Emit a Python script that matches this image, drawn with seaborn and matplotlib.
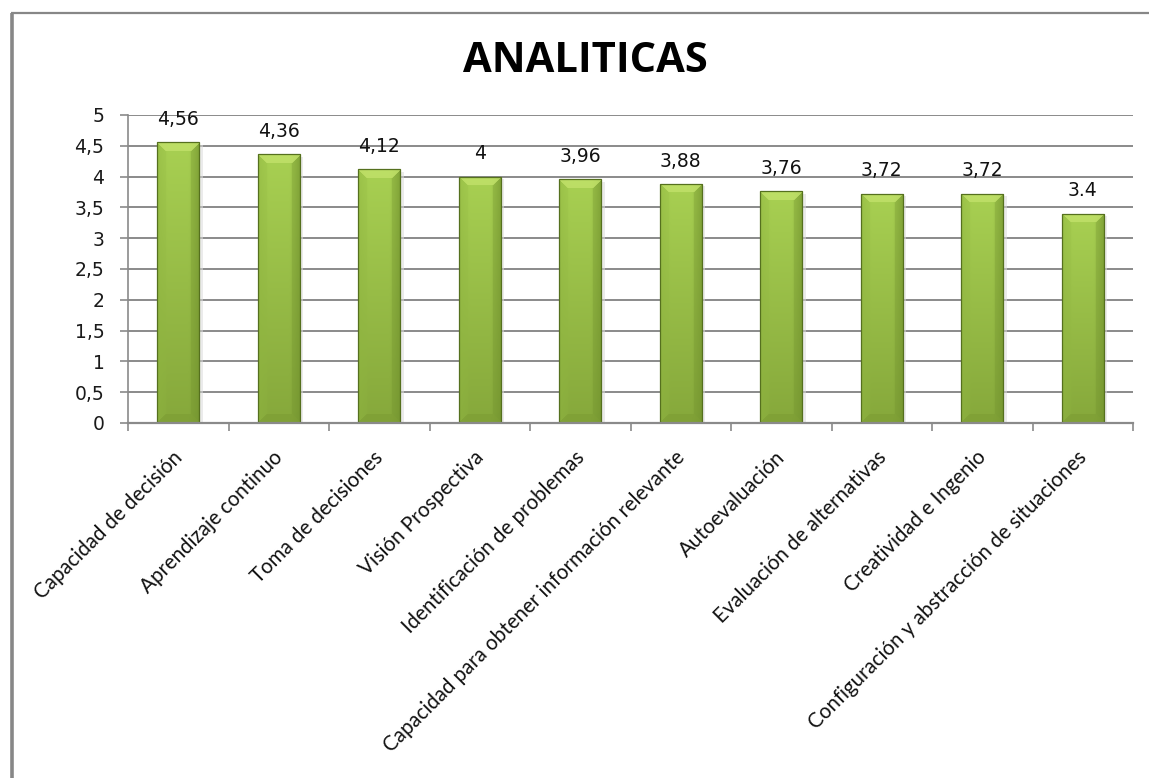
import numpy as np
import pandas as pd
import matplotlib
matplotlib.use("Agg")
import matplotlib.pyplot as plt
import matplotlib.lines as mlines
import matplotlib.transforms as mtransforms
from matplotlib.colors import to_rgb
import seaborn as sns

# Competencias analíticas: puntaje medio por competencia
categories = [
    "Capacidad de decisión",
    "Aprendizaje continuo",
    "Toma de decisiones",
    "Visión Prospectiva",
    "Identificación de problemas",
    "Capacidad para obtener información relevante",
    "Autoevaluación",
    "Evaluación de alternativas",
    "Creatividad e Ingenio",
    "Configuración y abstracción de situaciones",
]
values = [4.56, 4.36, 4.12, 4.0, 3.96, 3.88, 3.76, 3.72, 3.72, 3.4]
value_labels = ["4,56", "4,36", "4,12", "4", "3,96", "3,88", "3,76", "3,72", "3,72", "3.4"]
y_ticks = [0, 0.5, 1, 1.5, 2, 2.5, 3, 3.5, 4, 4.5, 5]
y_tick_labels = ["0", "0,5", "1", "1,5", "2", "2,5", "3", "3,5", "4", "4,5", "5"]
title = "ANALITICAS"

sns.set_theme(style="white")
plt.rcParams["font.family"] = ["Lato", "DejaVu Sans"]

W, H = 1149, 778
fig = plt.figure(figsize=(W / 100, H / 100), dpi=100)
fig.patch.set_facecolor("white")

# chart frame (left and top edges)
frame_color = "#878787"
fig.add_artist(mlines.Line2D([12 / W, 12 / W], [0, 1 - 13 / H], transform=fig.transFigure,
                             color=frame_color, lw=2.6, solid_capstyle="butt"))
fig.add_artist(mlines.Line2D([11 / W, 1], [1 - 13 / H, 1 - 13 / H], transform=fig.transFigure,
                             color=frame_color, lw=1.6, solid_capstyle="butt"))

left, right, top, bottom = 128, 1133, 115, 423
ax = fig.add_axes([left / W, 1 - bottom / H, (right - left) / W, (bottom - top) / H])
px_per_unit = (bottom - top) / 5.0
px_per_cat = (right - left) / len(categories)

df = pd.DataFrame({"competencia": categories, "puntaje": values})
sns.barplot(data=df, x="competencia", y="puntaje", color="#9bbb59", width=0.42,
            ax=ax, saturation=1, zorder=3)

ax.set_xlim(-0.5, len(categories) - 0.5)
ax.set_ylim(0, 5)
ax.set_xlabel("")
ax.set_ylabel("")

# gridlines
grid_color = "#8a8a8a"
for yv in y_ticks[1:]:
    ax.axhline(yv, color=grid_color, lw=1.4, zorder=1)

for s in ["top", "right"]:
    ax.spines[s].set_visible(False)
ax.spines["left"].set_color(grid_color)
ax.spines["left"].set_linewidth(1.2)
ax.spines["bottom"].set_color(grid_color)
ax.spines["bottom"].set_linewidth(1.6)
ax.spines["bottom"].set_zorder(4)

ax.set_yticks(y_ticks)
ax.set_yticklabels(y_tick_labels, fontsize=13.5, color="#1a1a1a",
                   family=["DejaVu Sans"])
ax.tick_params(axis="y", which="major", left=True, length=6, width=1.2,
               color=grid_color, pad=11)

# category ticks sit between the bars
ax.set_xticks(np.arange(len(categories)))
ax.set_xticks(np.arange(len(categories) + 1) - 0.5, minor=True)
ax.tick_params(axis="x", which="major", bottom=False, length=0, pad=13)
ax.tick_params(axis="x", which="minor", bottom=True, length=6, width=1.2, color=grid_color)
ax.set_xticklabels(categories, rotation=45, ha="right", va="top",
                   rotation_mode="anchor", fontsize=14.8, color="#111111")
shift = mtransforms.ScaledTranslation(-6 / 100, -6 / 100, fig.dpi_scale_trans)
for lbl in ax.get_xticklabels():
    lbl.set_transform(lbl.get_transform() + shift)

# bevelled fill for each bar, built in pixel units
c_top = np.array(to_rgb("#a8d052"))
c_bot = np.array(to_rgb("#86a83b"))
c_lft = np.array(to_rgb("#8fb540"))
c_rgt = np.array(to_rgb("#6f8f2c"))
c_bev_top = np.array(to_rgb("#c4e36c"))
c_bev_bot = np.array(to_rgb("#7a9a32"))
bev = 9
for patch in ax.patches:
    x0, y0 = patch.get_x(), patch.get_y()
    w, h = patch.get_width(), patch.get_height()
    nx = max(int(round(w * px_per_cat)), 2)
    ny = max(int(round(h * px_per_unit)), 2)
    py, pxx = np.mgrid[0:ny, 0:nx]
    t = (py / (ny - 1))[..., None]
    img = c_top * (1 - t) + c_bot * t
    # soft darker vertical strips near both sides
    sx = pxx / (nx - 1)
    side_l = np.clip(1 - sx / 0.28, 0, 1)[..., None] ** 1.5
    side_r = np.clip(1 - (1 - sx) / 0.28, 0, 1)[..., None] ** 1.5
    img = img * (1 - 0.4 * side_l) + c_lft * 0.4 * side_l
    img = img * (1 - 0.55 * side_r) + c_rgt * 0.55 * side_r
    # bevel facets
    dt, db = py, ny - 1 - py
    dl, dr = pxx, nx - 1 - pxx
    dmin = np.minimum.reduce([dt, db, dl, dr])
    in_bev = dmin < bev
    top_f = in_bev & (dt == dmin)
    bot_f = in_bev & (db == dmin) & ~top_f
    lft_f = in_bev & (dl == dmin) & ~top_f & ~bot_f
    rgt_f = in_bev & (dr == dmin) & ~top_f & ~bot_f & ~lft_f
    img[top_f] = img[top_f] * 0.25 + c_bev_top * 0.75
    img[bot_f] = img[bot_f] * 0.5 + c_bev_bot * 0.5
    img[lft_f] = img[lft_f] * 0.8 + c_lft * 0.2
    img[rgt_f] = img[rgt_f] * 0.7 + c_rgt * 0.3
    patch.set_facecolor("none")
    patch.set_edgecolor("#55701e")
    patch.set_linewidth(0.9)
    im = ax.imshow(img, extent=[x0, x0 + w, y0, y0 + h], aspect="auto",
                   origin="upper", zorder=2.5, interpolation="bilinear")
    im.set_clip_path(patch)
    # soft shadow to the right
    ax.add_patch(plt.Rectangle((x0 + w, y0), 0.035, h * 0.99, color="#dcdcdc",
                               alpha=0.55, lw=0, zorder=2))

ax.set_xlim(-0.5, len(categories) - 0.5)
ax.set_ylim(0, 5)

# value labels above the bars
for i, (v, txt) in enumerate(zip(values, value_labels)):
    ax.annotate(txt, (i, v), xytext=(0, 16.5), textcoords="offset points",
                ha="center", va="center", fontsize=13.5, color="#111111",
                family=["DejaVu Sans"], zorder=5)

fig.text(585 / W, 1 - 62 / H, title, ha="center", va="center",
         fontsize=30, fontweight="bold", color="#000000",
         family=["Open Sans", "DejaVu Sans"])

fig.savefig("out.png", dpi=100, facecolor="white")
